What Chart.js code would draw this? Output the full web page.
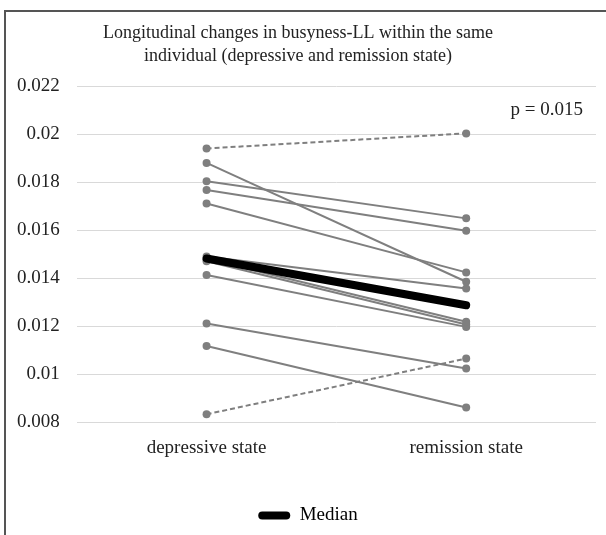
<!DOCTYPE html>
<html>
<head>
    <title>Busyness-LL longitudinal changes</title>
    <script src="https://cdn.jsdelivr.net/npm/chart.js"></script>
    <style>
        body {
            margin: 0;
            padding: 0;
            background: white;
        }
        .wrap {
            position: relative;
            width: 606px;
            height: 535px;
            overflow: hidden;
        }
        .frame {
            position: absolute;
            left: 4px;
            top: 10px;
            width: 620px;
            height: 540px;
            border-left: 2px solid #555;
            border-top: 2px solid #555;
        }
        canvas {
            position: absolute;
            left: 0;
            top: 0;
        }
    </style>
</head>
<body>
    <div class="wrap">
        <div class="frame"></div>
        <canvas id="chart" width="606" height="535"></canvas>
    </div>

    <script>
        // data
        const categories = ["depressive state", "remission state"];
        const depressive = [0.0194, 0.0188, 0.01804, 0.01767, 0.01711, 0.0149, 0.0148, 0.0147, 0.01413, 0.01211, 0.01117, 0.00833];
        const remission  = [0.02003, 0.01385, 0.01649, 0.01597, 0.01424, 0.01357, 0.01218, 0.01207, 0.01197, 0.01024, 0.00861, 0.01065];
        const median = [0.01482, 0.01287];
        const pValue = "p = 0.015";

        const serif = "'Liberation Serif', 'Times New Roman', serif";
        const gray = "#7f7f7f";

        const datasets = [{
            label: "Median",
            data: median,
            borderColor: "#000",
            backgroundColor: "#000",
            borderWidth: 8,
            borderCapStyle: "round",
            pointRadius: 0
        }];

        for (let i = 0; i < depressive.length; i++) {
            // rising pairs are drawn dashed
            const up = remission[i] > depressive[i];
            datasets.push({
                label: "subject " + (i + 1),
                data: [depressive[i], remission[i]],
                borderColor: gray,
                backgroundColor: gray,
                borderWidth: 2,
                borderDash: up ? [5, 3] : [],
                pointRadius: 4,
                pointBorderWidth: 0,
                pointBackgroundColor: gray
            });
        }

        const pText = {
            id: "pText",
            afterLayout(chart) {
                // legend sits a little right of centre in the original
                chart.legend.left += 20;
            },
            afterDraw(chart) {
                const ctx = chart.ctx;
                const y = chart.scales.y.getPixelForValue(0.021);
                ctx.save();
                ctx.font = "19px " + serif;
                ctx.fillStyle = "#222";
                ctx.textAlign = "right";
                ctx.textBaseline = "middle";
                ctx.fillText(pValue, chart.chartArea.right - 13, y);
                ctx.restore();
            }
        };

        new Chart(document.getElementById("chart"), {
            type: "line",
            data: { labels: categories, datasets: datasets },
            plugins: [pText],
            options: {
                responsive: false,
                animation: false,
                layout: { padding: { top: 12, left: 0, right: 10, bottom: 0 } },
                plugins: {
                    title: {
                        display: true,
                        text: ["Longitudinal changes in busyness-LL within the same", "individual (depressive and remission state)"],
                        color: "#222",
                        font: { family: serif, size: 18, weight: "normal", lineHeight: 1.28 },
                        padding: { top: 10, bottom: 18 }
                    },
                    legend: {
                        position: "bottom",
                        labels: {
                            color: "#222",
                            font: { family: serif, size: 19 },
                            boxWidth: 32,
                            boxHeight: 8,
                            useBorderRadius: true,
                            borderRadius: 4,
                            generateLabels() {
                                return [{ text: "Median", fillStyle: "#000", strokeStyle: "#000", lineWidth: 0, datasetIndex: 0, borderRadius: 4 }];
                            }
                        }
                    },
                    tooltip: { enabled: false }
                },
                scales: {
                    x: {
                        offset: true,
                        grid: { display: false },
                        border: { display: false },
                        ticks: { color: "#222", font: { family: serif, size: 19 }, padding: 6 },
                        afterFit(scale) { scale.height += 31; }
                    },
                    y: {
                        min: 0.008,
                        max: 0.022,
                        grid: { color: "#d9d9d9", drawTicks: false },
                        border: { display: false },
                        ticks: {
                            stepSize: 0.002,
                            color: "#222",
                            font: { family: serif, size: 19 },
                            padding: 17,
                            callback: (v) => String(parseFloat(v.toFixed(3)))
                        }
                    }
                }
            }
        });
    </script>
</body>
</html>
